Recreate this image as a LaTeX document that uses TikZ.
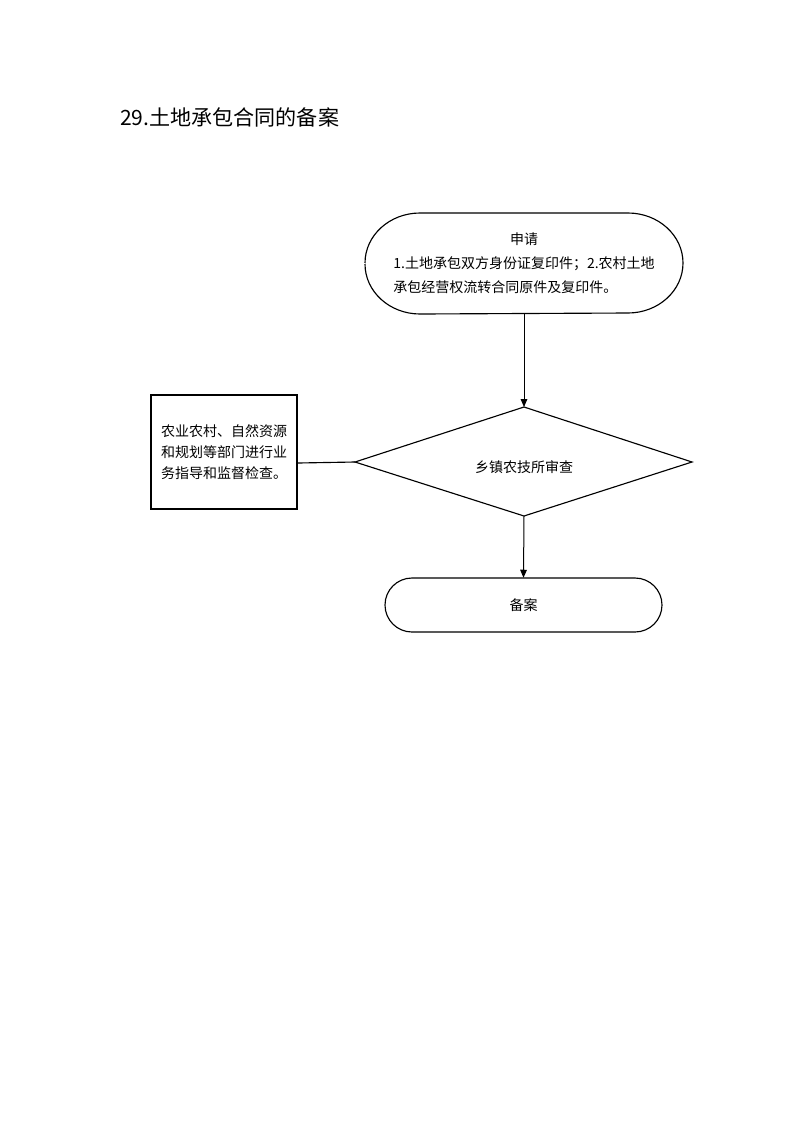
\documentclass[tikz,border=0pt]{standalone}
\usepackage{fontspec}
\newfontfamily\cjk{Noto Sans CJK SC}
\usetikzlibrary{shapes.geometric,arrows.meta}
\begin{document}
\begin{tikzpicture}[x=0.75pt,y=-0.75pt,
  every node/.style={font=\cjk\fontsize{10.5}{16}\selectfont},
  lineb/.style={draw=black,line width=0.85pt},
  boxline/.style={draw=black,line width=1.5pt},
  arr/.style={draw=black,line width=0.75pt,-{Triangle[length=6pt,width=5pt]}},
]
\fill[white] (0,0) rectangle (793,1122);
\useasboundingbox (0,0) rectangle (793,1122);
\node[anchor=base west,font=\cjk\fontsize{15.8}{18}\selectfont,inner sep=0pt] (title) at (120,125) {29.土地承包合同的备案};

\draw[lineb] (365,263) arc[start angle=180,end angle=90,x radius=55,y radius=-50] -- (628,213)
  arc[start angle=90,end angle=0,x radius=55,y radius=-50] arc[start angle=0,end angle=-90,x radius=55,y radius=-50]
  -- (420,314) arc[start angle=-90,end angle=-180,x radius=55,y radius=-50];
\node[inner sep=0pt,minimum width=318*0.75pt,minimum height=101*0.75pt] (apply) at (524,263.5)
  {\renewcommand{\arraystretch}{1.12}\begin{tabular}{@{}l@{}}\multicolumn{1}{c}{申请}\\1.土地承包双方身份证复印件；2.农村土地\\承包经营权流转合同原件及复印件。\end{tabular}};

\coordinate (dtop) at (524,407);
\coordinate (dbot) at (524,516);
\coordinate (dleft) at (355,462);
\coordinate (dright) at (692,462);
\draw[lineb] (dtop) -- (dright) -- (dbot) -- (dleft) -- cycle;
\node (check) at (524,467) {乡镇农技所审查};

\node[boxline,minimum width=146*0.75pt,minimum height=114*0.75pt,align=center,inner sep=0pt] (guide) at (224,452)
  {农业农村、自然资源\\和规划等部门进行业\\务指导和监督检查。};

\draw[lineb] (412,578) -- (635,578) arc[start angle=90,end angle=-90,x radius=27,y radius=-27] -- (412,632)
  arc[start angle=270,end angle=90,x radius=27,y radius=-27];
\node[minimum width=277*0.75pt,minimum height=54*0.75pt,inner sep=0pt] (file) at (523.5,605) {备案};

\draw[arr] (apply.south) -- (dtop);
\draw[arr] (dbot) -- (file.north);
\draw[lineb] (guide.east |- 0,463) -- (dleft);
\end{tikzpicture}
\end{document}
